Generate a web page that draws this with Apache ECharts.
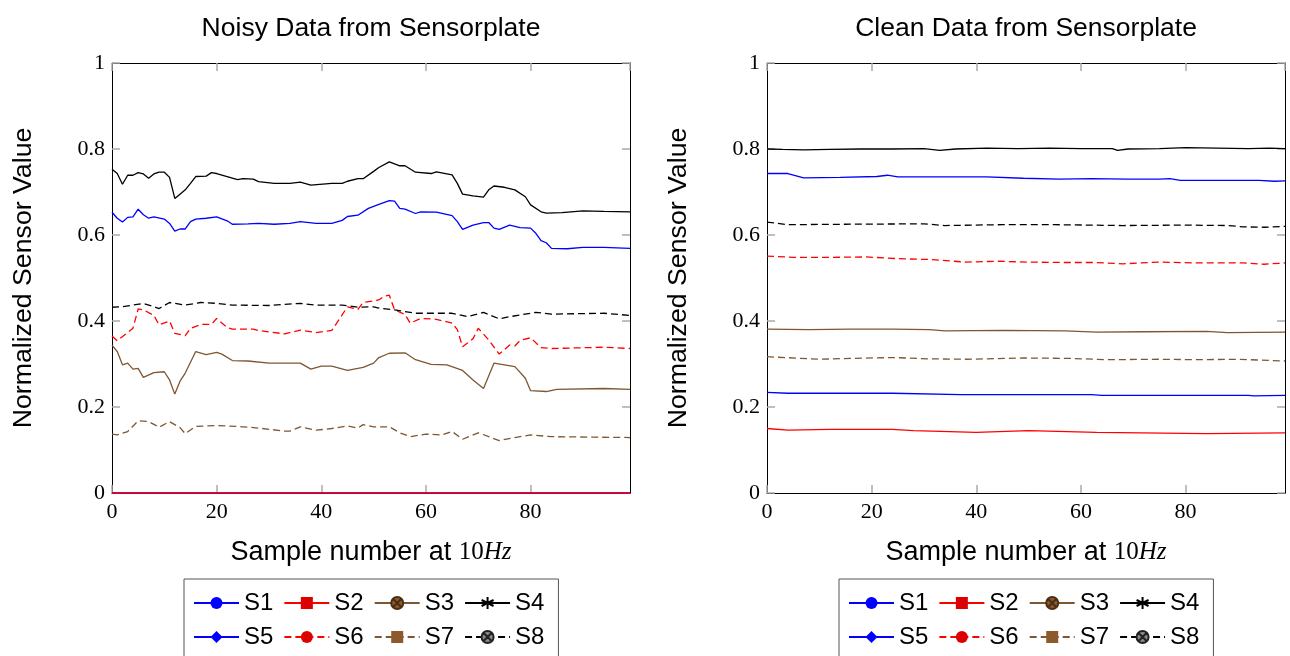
<!DOCTYPE html>
<html>
<head>
<meta charset="utf-8">
<script src="https://cdn.jsdelivr.net/npm/echarts@6/dist/echarts.min.js"></script>
<style>
html,body{margin:0;padding:0;background:#fff;}
#chart{width:1290px;height:656px;}
</style>
</head>
<body>
<div id="chart"></div>
<script>
// ---------- data (sample index, normalized value) ----------
const seriesNames = ['S1','S2','S3','S4','S5','S6','S7','S8'];
const yTicks = [0, 0.2, 0.4, 0.6, 0.8, 1];
const xTicks = [0, 20, 40, 60, 80];
const sampleMax = 99;

// Noisy data (left)
const noisyS1 = [[0,0],[99,0]];
const noisyS2 = [[0,0],[99,0]];
const noisyS3 = [[0,0.344],[1,0.329],[2,0.298],[3,0.302],[4,0.288],[5,0.29],[6,0.269],[8,0.28],[10,0.282],[11,0.263],[12,0.23],[13,0.26],[14,0.279],[16,0.329],[18,0.322],[20,0.327],[21,0.323],[23,0.308],[26,0.307],[30,0.302],[36,0.302],[38,0.288],[40,0.295],[42,0.295],[45,0.285],[47,0.29],[48,0.292],[50,0.302],[51,0.315],[53,0.325],[56,0.326],[58,0.31],[61,0.299],[64,0.298],[67,0.285],[69,0.263],[71,0.243],[73,0.302],[75,0.298],[77,0.294],[79,0.267],[80,0.238],[83,0.236],[85,0.241],[94,0.243],[99,0.241]];
const noisyS4 = [[0,0.753],[1,0.743],[2,0.718],[3,0.739],[4,0.739],[5,0.745],[6,0.742],[7,0.732],[8,0.742],[9,0.746],[10,0.746],[11,0.734],[12,0.685],[13,0.695],[14,0.705],[15,0.72],[16,0.736],[18,0.737],[19,0.745],[20,0.743],[22,0.736],[24,0.729],[25,0.731],[27,0.73],[28,0.724],[31,0.72],[34,0.72],[36,0.723],[38,0.716],[42,0.72],[44,0.72],[45,0.725],[47,0.731],[48,0.731],[50,0.748],[51,0.757],[53,0.77],[55,0.761],[56,0.761],[58,0.746],[61,0.743],[62,0.747],[65,0.74],[66,0.72],[67,0.695],[69,0.691],[71,0.688],[72,0.705],[73,0.714],[75,0.711],[77,0.705],[79,0.689],[80,0.67],[82,0.654],[83,0.651],[86,0.652],[90,0.656],[94,0.655],[99,0.654]];
const noisyS5 = [[0,0.653],[1,0.639],[2,0.63],[3,0.641],[4,0.642],[5,0.66],[6,0.647],[7,0.639],[8,0.642],[10,0.637],[11,0.627],[12,0.609],[13,0.614],[14,0.614],[15,0.631],[16,0.637],[18,0.639],[20,0.642],[22,0.633],[23,0.625],[26,0.626],[28,0.627],[31,0.625],[34,0.627],[36,0.631],[39,0.627],[42,0.627],[44,0.634],[45,0.643],[47,0.646],[49,0.662],[51,0.671],[53,0.68],[54,0.679],[55,0.662],[56,0.66],[58,0.65],[59,0.654],[62,0.653],[65,0.645],[66,0.631],[67,0.613],[69,0.623],[71,0.629],[72,0.629],[73,0.616],[74,0.613],[76,0.623],[78,0.617],[80,0.616],[81,0.604],[82,0.587],[83,0.582],[84,0.569],[87,0.568],[90,0.571],[94,0.571],[99,0.569]];
const noisyS6 = [[0,0.365],[1,0.354],[4,0.383],[5,0.428],[6,0.426],[8,0.413],[9,0.391],[11,0.40],[12,0.371],[14,0.366],[15,0.383],[17,0.392],[19,0.392],[20,0.406],[22,0.385],[23,0.381],[27,0.381],[28,0.378],[33,0.37],[36,0.379],[39,0.373],[42,0.378],[43,0.396],[45,0.433],[47,0.427],[48,0.443],[51,0.449],[52,0.458],[53,0.46],[54,0.426],[56,0.415],[57,0.395],[59,0.406],[62,0.404],[65,0.395],[66,0.38],[67,0.34],[69,0.359],[70,0.383],[72,0.356],[74,0.323],[76,0.344],[77,0.342],[78,0.355],[80,0.361],[82,0.338],[84,0.336],[94,0.339],[99,0.336]];
const noisyS7 = [[0,0.137],[1,0.135],[3,0.143],[5,0.168],[7,0.166],[9,0.153],[11,0.166],[13,0.152],[14,0.138],[16,0.155],[20,0.157],[25,0.154],[28,0.151],[33,0.144],[34,0.144],[36,0.154],[39,0.146],[42,0.15],[45,0.156],[47,0.151],[48,0.159],[50,0.154],[53,0.154],[55,0.14],[57,0.131],[60,0.137],[63,0.135],[65,0.143],[67,0.125],[70,0.14],[74,0.122],[77,0.129],[80,0.135],[84,0.131],[99,0.129]];
const noisyS8 = [[0,0.432],[2,0.433],[4,0.437],[6,0.441],[9,0.429],[11,0.443],[14,0.437],[17,0.443],[20,0.441],[23,0.437],[30,0.436],[36,0.441],[39,0.437],[44,0.437],[47,0.432],[50,0.433],[51,0.43],[54,0.426],[58,0.418],[65,0.418],[68,0.41],[71,0.42],[74,0.405],[76,0.41],[81,0.42],[84,0.416],[94,0.418],[99,0.413]];

// Clean data (right)
const cleanS1 = [[0,0.234],[4,0.232],[24,0.232],[37,0.229],[62,0.229],[64,0.227],[92,0.227],[93,0.226],[99,0.227]];
const cleanS2 = [[0,0.150],[4,0.146],[12,0.148],[24,0.148],[28,0.145],[40,0.141],[50,0.145],[63,0.141],[84,0.138],[99,0.140]];
const cleanS3 = [[0,0.381],[8,0.380],[16,0.381],[24,0.381],[31,0.380],[34,0.377],[45,0.378],[57,0.377],[63,0.374],[72,0.375],[84,0.376],[88,0.373],[99,0.374]];
const cleanS4 = [[0,0.800],[3,0.799],[7,0.798],[12,0.799],[18,0.800],[24,0.800],[30,0.801],[33,0.797],[36,0.800],[42,0.802],[48,0.801],[54,0.802],[60,0.801],[66,0.801],[67,0.797],[69,0.800],[75,0.801],[80,0.803],[86,0.802],[92,0.801],[96,0.802],[99,0.801]];
const cleanS5 = [[0,0.743],[4,0.743],[7,0.733],[14,0.734],[21,0.736],[23,0.739],[25,0.735],[35,0.735],[42,0.735],[49,0.732],[56,0.730],[62,0.731],[69,0.730],[75,0.730],[77,0.731],[79,0.727],[87,0.727],[94,0.727],[97,0.725],[99,0.726]];
const cleanS6 = [[0,0.551],[5,0.548],[12,0.548],[19,0.549],[25,0.545],[31,0.543],[38,0.537],[44,0.539],[50,0.537],[57,0.536],[63,0.536],[68,0.533],[75,0.537],[82,0.535],[91,0.535],[95,0.532],[99,0.535]];
const cleanS7 = [[0,0.317],[10,0.311],[16,0.313],[24,0.315],[31,0.312],[38,0.311],[49,0.314],[58,0.313],[65,0.310],[75,0.311],[82,0.310],[90,0.311],[99,0.307]];
const cleanS8 = [[0,0.63],[4,0.624],[15,0.625],[30,0.626],[34,0.622],[45,0.624],[55,0.624],[68,0.622],[80,0.623],[88,0.622],[91,0.619],[95,0.618],[99,0.62]];

const noisyData = [noisyS1,noisyS2,noisyS3,noisyS4,noisyS5,noisyS6,noisyS7,noisyS8];
const cleanData = [cleanS1,cleanS2,cleanS3,cleanS4,cleanS5,cleanS6,cleanS7,cleanS8];

// ---------- styles ----------
const BROWN = '#7f5631';
const asterisk = 'path://M0,-10 L0,10 M-8.66,-5 L8.66,5 M-8.66,5 L8.66,-5';
const otimes = 'path://M10,0 A10,10 0 1,1 -10,0 A10,10 0 1,1 10,0 Z M-7,-7 L7,7 M-7,7 L7,-7';
const styles = [
  {color:'#0000ff', dash:'solid', symbol:'circle', item:{color:'#0000ff'}},
  {color:'#ff0000', dash:'solid', symbol:'rect', item:{color:'#dd0000'}},
  {color:BROWN, dash:'solid', symbol:otimes, item:{color:'#8c5a2c', borderColor:'#4a2f15', borderWidth:0.8}},
  {color:'#000000', dash:'solid', symbol:asterisk, item:{color:'#000', borderColor:'#000', borderWidth:1}},
  {color:'#0000ff', dash:'solid', symbol:'diamond', item:{color:'#0000ff'}},
  {color:'#ff0000', dash:[7,4], symbol:'circle', item:{color:'#dd0000'}},
  {color:BROWN, dash:[7,4], symbol:'rect', item:{color:'#8c5a2c'}},
  {color:'#000000', dash:[7,4], symbol:otimes, item:{color:'#8a8a8a', borderColor:'#222', borderWidth:1}}
];

const serifTick = {fontFamily:'Liberation Serif', fontSize:22, color:'#000'};
const sansName = {fontFamily:'Liberation Sans', fontSize:26.7, color:'#000'};
const tickStyle = {show:true, inside:true, length:8, lineStyle:{color:'#aaaaaa', width:1.5}};
const lineAx = {show:true, onZero:false, lineStyle:{color:'#000', width:1}};

const grids = [
  {left:112, top:63, width:518, height:430},
  {left:767, top:63, width:518, height:430}
];
const titles = ['Noisy Data from Sensorplate', 'Clean Data from Sensorplate'];

const xAxes = [], yAxes = [], series = [], legends = [], titleOpts = [];
grids.forEach((g, gi) => {
  const cx = g.left + g.width / 2;
  titleOpts.push({text: titles[gi], left: cx, top: 15, textAlign:'center', padding:0,
    textStyle:{fontFamily:'Liberation Sans', fontSize:26.5, fontWeight:'normal', color:'#000'}});
  xAxes.push({type:'value', gridIndex:gi, position:'bottom', min:0, max:sampleMax, interval:20,
    axisLine:lineAx, axisTick:tickStyle, splitLine:{show:false},
    axisLabel:{...serifTick, margin:8, showMaxLabel:false, formatter: v => xTicks.includes(v) ? String(v) : ''},
    name:'{a|Sample number at }{b|10}{c|Hz}', nameLocation:'middle', nameGap:46,
    nameTextStyle:{rich:{a:{fontFamily:'Liberation Sans', fontSize:27, color:'#000'}, b:{fontFamily:'Liberation Serif', fontSize:25, color:'#000'}, c:{fontFamily:'Liberation Serif', fontStyle:'italic', fontSize:25, color:'#000'}}}});
  xAxes.push({type:'value', gridIndex:gi, position:'top', min:0, max:sampleMax, interval:20,
    axisLine:lineAx, axisTick:tickStyle, axisLabel:{show:false}, splitLine:{show:false}});
  yAxes.push({type:'value', gridIndex:gi, position:'left', min:0, max:1, interval:0.2,
    axisLine:lineAx, axisTick:tickStyle, splitLine:{show:false},
    axisLabel:{...serifTick, margin:7, formatter: v => { const t = yTicks.find(k => Math.abs(k - v) < 1e-9); return t === undefined ? '' : String(t); }},
    name:'Normalized Sensor Value', nameLocation:'middle', nameGap:75, nameRotate:90, nameTextStyle:sansName});
  yAxes.push({type:'value', gridIndex:gi, position:'right', min:0, max:1, interval:0.2,
    axisLine:lineAx, axisTick:tickStyle, axisLabel:{show:false}, splitLine:{show:false}});
  const data = gi === 0 ? noisyData : cleanData;
  seriesNames.forEach((n, si) => {
    const st = styles[si];
    series.push({type:'line', name:n, xAxisIndex:gi*2, yAxisIndex:gi*2, data:data[si],
      showSymbol:false, symbol:st.symbol, symbolSize:6, clip:false,
      lineStyle:{color:st.color, width:1.3, type:st.dash},
      itemStyle:st.item, color: st.color, emphasis:{disabled:true}});
  });
  legends.push({data:seriesNames, left: cx - 187, top:579, orient:'horizontal', width:356,
    itemWidth:45, itemHeight:15, itemGap:10, selectedMode:false,
    textStyle:{fontFamily:'Liberation Sans', fontSize:24, color:'#000'},
    backgroundColor:'#fff', borderColor:'#555', borderWidth:1, padding:[12,14,12,9]});
});

const chart = echarts.init(document.getElementById('chart'), null, {renderer:'canvas'});
chart.setOption({
  animation:false,
  backgroundColor:'#fff',
  title:titleOpts,
  grid:grids,
  xAxis:xAxes,
  yAxis:yAxes,
  legend:legends,
  series:series
});
</script>
</body>
</html>
